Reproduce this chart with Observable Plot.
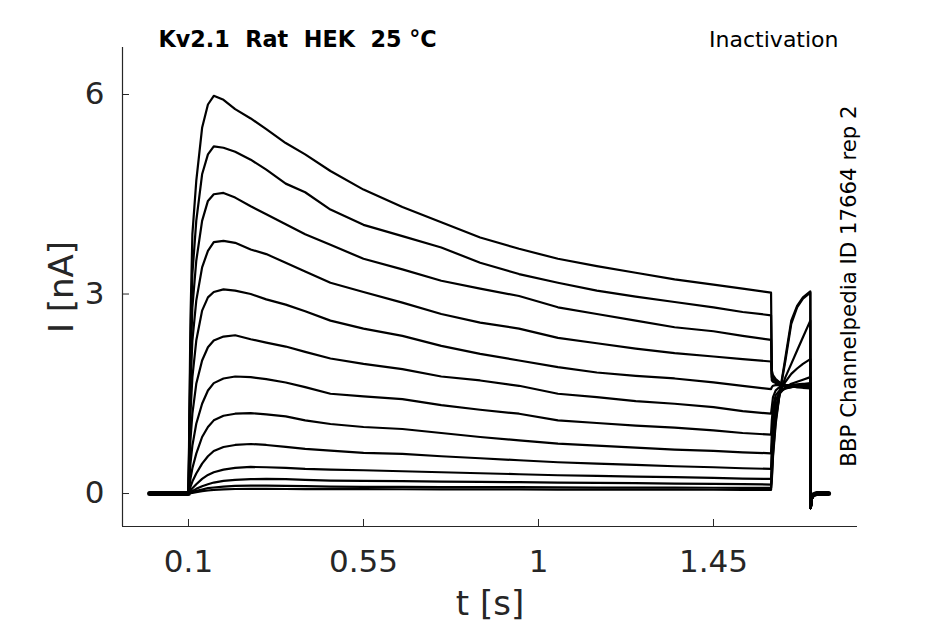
<!DOCTYPE html>
<html><head><meta charset="utf-8">
<script src="https://cdn.jsdelivr.net/npm/d3@7"></script>
<script src="https://cdn.jsdelivr.net/npm/@observablehq/plot@0.6"></script>
<style>
body{margin:0;background:#fff;}
#chart svg{display:block;}
</style>
</head><body><div id="chart"></div>
<script>
// ---- data ----
const xTicks = [0.1, 0.55, 1, 1.45];
const xTickLabels = ["0.1", "0.55", "1", "1.45"];
const yTicks = [0, 3, 6];
const yTickLabels = ["0", "3", "6"];
const xLabel = "t [s]";
const yLabel = "I [nA]";
const titleLeft = "Kv2.1\u00a0 Rat\u00a0 HEK\u00a0 25 °C";
const titleRight = "Inactivation";
const sideNote = "BBP Channelpedia ID 17664 rep 2";

// holding before the pulses
const tPre = [0, 0.03, 0.06, 0.0995];
const iPre = [0, 0, 0, 0];
// first pulse (0.1–1.6 s) and second pulse (1.6–1.7 s)
const tStep = [0.1, 0.105, 0.11, 0.12, 0.135, 0.15, 0.165, 0.19, 0.22, 0.26, 0.3, 0.35, 0.4, 0.465, 0.55, 0.65, 0.75, 0.85, 0.95, 1.05, 1.15, 1.25, 1.35, 1.45, 1.525, 1.598,
               1.6, 1.603, 1.61, 1.62, 1.635, 1.65, 1.665, 1.68, 1.699];
// return to holding
const tPost = [1.7, 1.7005, 1.703, 1.707, 1.715, 1.746];
const iPost = [-0.22, -0.2, -0.08, -0.02, 0, 0];

const s01 = [0, 2.6, 3.9, 4.7, 5.5, 5.85, 5.98, 5.92, 5.78, 5.64, 5.48, 5.27, 5.1, 4.85, 4.57, 4.31, 4.08, 3.85, 3.68, 3.53, 3.42, 3.32, 3.22, 3.14, 3.08, 3.02, 1.85, 1.78, 1.72, 1.67, 1.63, 1.61, 1.6, 1.59, 1.58];
const s02 = [0, 2.2, 3.3, 4.1, 4.8, 5.1, 5.22, 5.2, 5.14, 5.02, 4.87, 4.66, 4.53, 4.27, 4.04, 3.87, 3.7, 3.47, 3.3, 3.17, 3.05, 2.96, 2.88, 2.8, 2.73, 2.68, 1.8, 1.75, 1.7, 1.66, 1.63, 1.61, 1.6, 1.6, 1.59];
const s03 = [0, 1.9, 2.8, 3.5, 4.1, 4.4, 4.5, 4.52, 4.45, 4.32, 4.2, 4.05, 3.9, 3.74, 3.53, 3.37, 3.2, 3.08, 2.97, 2.8, 2.7, 2.6, 2.5, 2.44, 2.37, 2.31, 1.75, 1.72, 1.68, 1.65, 1.63, 1.62, 1.61, 1.6, 1.6];
const s04 = [0, 1.6, 2.3, 2.9, 3.4, 3.65, 3.78, 3.8, 3.77, 3.67, 3.6, 3.47, 3.34, 3.17, 3.03, 2.87, 2.7, 2.57, 2.48, 2.34, 2.26, 2.18, 2.11, 2.06, 2.02, 1.985, 1.7, 1.68, 1.66, 1.64, 1.63, 1.62, 1.62, 1.62, 1.62];
const s05 = [0, 1.2, 1.75, 2.3, 2.75, 2.95, 3.03, 3.07, 3.05, 3.0, 2.92, 2.84, 2.74, 2.6, 2.48, 2.37, 2.22, 2.1, 2.0, 1.9, 1.82, 1.77, 1.73, 1.67, 1.62, 1.57, 1.6, 1.62, 1.63, 1.63, 1.63, 1.63, 1.63, 1.63, 1.63];
const s06 = [0, 0.8, 1.2, 1.65, 2.0, 2.2, 2.3, 2.36, 2.38, 2.32, 2.27, 2.21, 2.13, 2.03, 1.95, 1.87, 1.76, 1.7, 1.62, 1.5, 1.45, 1.39, 1.35, 1.3, 1.24, 1.2, 1.3, 1.45, 1.55, 1.6, 1.62, 1.63, 1.64, 1.65, 1.65];
const s07 = [0, 0.45, 0.72, 1.05, 1.35, 1.55, 1.66, 1.73, 1.76, 1.75, 1.72, 1.67, 1.6, 1.5, 1.46, 1.42, 1.33, 1.26, 1.2, 1.1, 1.06, 1.02, 0.99, 0.95, 0.91, 0.885, 1.1, 1.3, 1.48, 1.55, 1.58, 1.6, 1.61, 1.62, 1.63];
const s08 = [0, 0.22, 0.38, 0.6, 0.85, 1.0, 1.1, 1.17, 1.2, 1.21, 1.19, 1.16, 1.1, 1.045, 1.0, 0.97, 0.91, 0.85, 0.8, 0.75, 0.72, 0.69, 0.66, 0.64, 0.62, 0.605, 0.9, 1.15, 1.4, 1.53, 1.58, 1.6, 1.62, 1.64, 1.66];
const s09 = [0, 0.1, 0.18, 0.3, 0.45, 0.56, 0.64, 0.7, 0.73, 0.745, 0.73, 0.7, 0.67, 0.645, 0.61, 0.595, 0.56, 0.53, 0.5, 0.47, 0.45, 0.43, 0.41, 0.395, 0.38, 0.37, 0.7, 1.0, 1.3, 1.5, 1.6, 1.65, 1.68, 1.71, 1.75];
const s10 = [0, 0.04, 0.08, 0.14, 0.22, 0.28, 0.32, 0.36, 0.385, 0.4, 0.395, 0.385, 0.37, 0.36, 0.35, 0.335, 0.32, 0.305, 0.29, 0.275, 0.265, 0.255, 0.245, 0.235, 0.225, 0.22, 0.5, 0.85, 1.25, 1.52, 1.68, 1.8, 1.88, 1.95, 2.02];
const s11 = [0, 0.02, 0.04, 0.07, 0.11, 0.14, 0.165, 0.19, 0.205, 0.215, 0.22, 0.215, 0.205, 0.195, 0.19, 0.185, 0.18, 0.175, 0.17, 0.165, 0.16, 0.155, 0.15, 0.145, 0.14, 0.135, 0.35, 0.7, 1.15, 1.5, 1.75, 1.95, 2.15, 2.35, 2.6];
const s12 = [0, 0.01, 0.02, 0.04, 0.06, 0.08, 0.09, 0.105, 0.115, 0.12, 0.12, 0.115, 0.11, 0.105, 0.1, 0.1, 0.097, 0.095, 0.095, 0.093, 0.09, 0.09, 0.088, 0.087, 0.086, 0.085, 0.25, 0.6, 1.1, 1.5, 2.0, 2.55, 2.8, 2.93, 3.02];
const s13 = [0, 0.005, 0.01, 0.02, 0.035, 0.045, 0.055, 0.062, 0.068, 0.07, 0.07, 0.068, 0.067, 0.066, 0.065, 0.064, 0.063, 0.062, 0.061, 0.06, 0.06, 0.059, 0.058, 0.057, 0.056, 0.055, 0.2, 0.55, 1.05, 1.5, 2.05, 2.6, 2.82, 2.95, 3.04];
const sweeps = [s01, s02, s03, s04, s05, s06, s07, s08, s09, s10, s11, s12, s13];

// ---- build table ----
const rows = [];
sweeps.forEach((s, k) => {
  tPre.forEach((t, i) => rows.push({t, I: iPre[i], k}));
  tStep.forEach((t, i) => rows.push({t, I: s[i], k}));
  tPost.forEach((t, i) => rows.push({t, I: iPost[i], k}));
});
const holdRows = [
  ...tPre.map((t, i) => ({t, I: iPre[i], seg: "pre"})),
  ...tPost.slice(3).map((t, i) => ({t, I: iPost[i + 3], seg: "post"}))
];

const xDomain = [-0.0697, 1.8203];
const yDomain = [-0.496, 6.707];
const ink = "#262626";

const chart = Plot.plot({
  width: 945, height: 624,
  marginLeft: 122, marginRight: 88, marginTop: 47, marginBottom: 98,
  style: {fontFamily: "'DejaVu Sans', sans-serif", color: ink, background: "#fff", overflow: "visible"},
  x: {domain: xDomain},
  y: {domain: yDomain},
  marks: [
    Plot.ruleX([xDomain[0]], {stroke: ink, strokeWidth: 1.2}),
    Plot.ruleY([yDomain[0]], {stroke: ink, strokeWidth: 1.2}),
    Plot.axisX({ticks: xTicks, tickFormat: (d) => xTickLabels[xTicks.indexOf(d)], tickSize: -7, tickPadding: 30, fontSize: 31, label: null, stroke: ink}),
    Plot.axisY({ticks: yTicks, tickFormat: (d) => yTickLabels[yTicks.indexOf(d)], tickSize: -7, tickPadding: 25, fontSize: 31, label: null, stroke: ink}),
    Plot.line(holdRows, {x: "t", y: "I", z: "seg", stroke: "#000", strokeWidth: 5}),
    Plot.line(rows, {x: "t", y: "I", z: "k", stroke: "#000", strokeWidth: 2.2, strokeLinejoin: "round"}),
    Plot.text([xLabel], {frameAnchor: "bottom", textAnchor: "middle", lineAnchor: "middle", dy: 78, fontSize: 34, fill: ink}),
    Plot.text([yLabel], {frameAnchor: "left", textAnchor: "middle", lineAnchor: "middle", dx: -60, rotate: -90, fontSize: 34, fill: ink}),
    Plot.text([titleLeft], {frameAnchor: "top-left", textAnchor: "start", lineAnchor: "middle", dx: 36, dy: -8, fontSize: 22.3, fontWeight: "bold", fill: "#000"}),
    Plot.text([titleRight], {frameAnchor: "top-right", textAnchor: "end", lineAnchor: "middle", dx: -19, dy: -8, fontSize: 22, fill: "#000"}),
    Plot.text([sideNote], {frameAnchor: "right", textAnchor: "middle", lineAnchor: "middle", dx: -8, dy: -1, rotate: -90, fontSize: 21.3, fill: "#000"})
  ]
});
document.getElementById("chart").append(chart);
</script>
</body></html>
